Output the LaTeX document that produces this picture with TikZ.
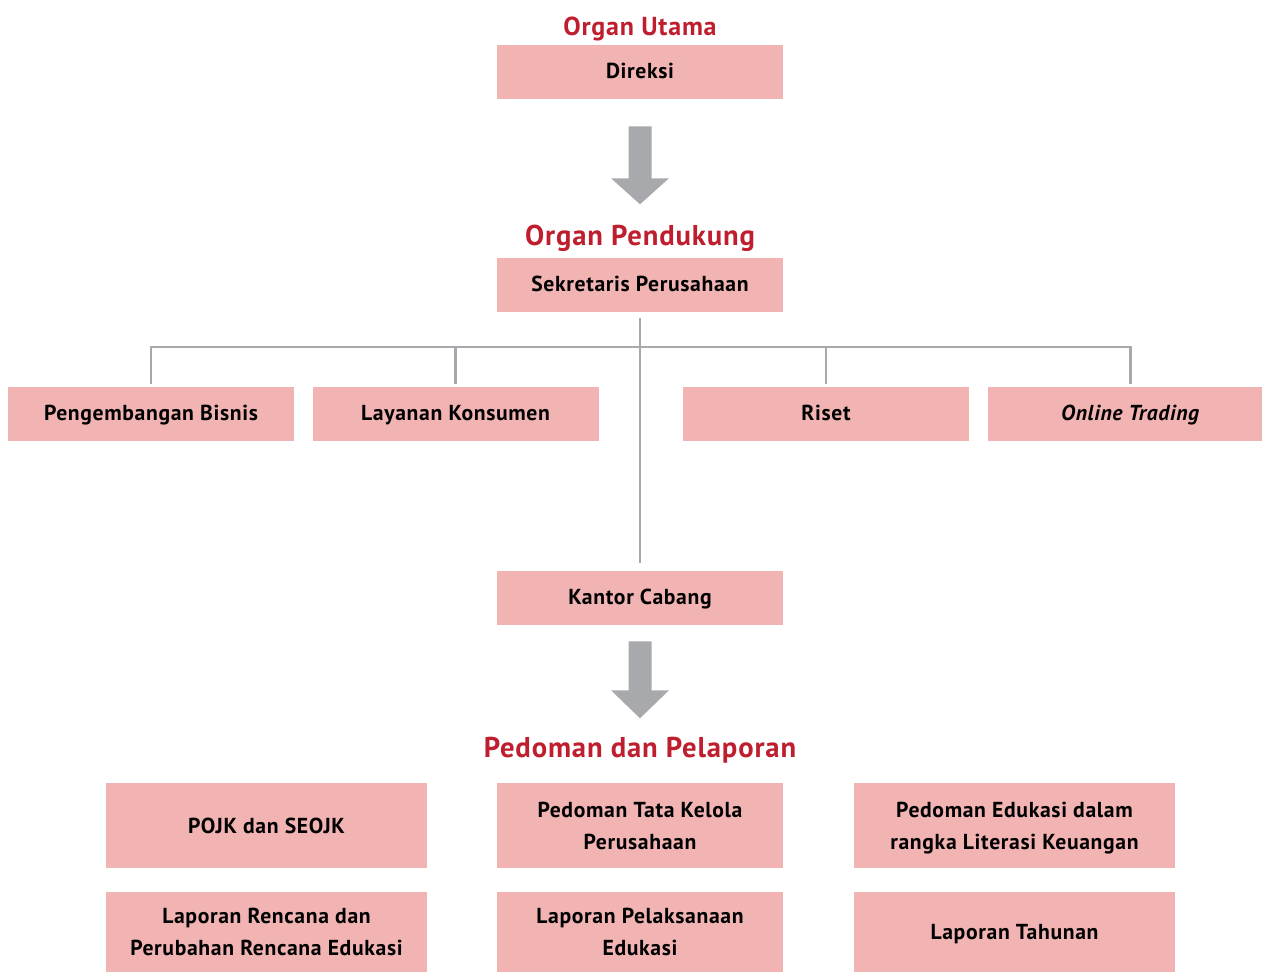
\documentclass[tikz,border=0pt]{standalone}
\usepackage{fontspec}
\setmainfont[LetterSpace=3]{PT Sans}
\usetikzlibrary{positioning,calc}
\definecolor{boxpink}{HTML}{F2B3B3}
\definecolor{titlered}{HTML}{BE1E2D}
\definecolor{linegray}{HTML}{A7A9AC}

\begin{document}
\begin{tikzpicture}[%
    x=0.75pt, y=-0.75pt,        % one unit is one pixel of the sketch, y runs down
    node distance=13.5pt,       % gap between boxes of one row
    ]
% -------------------------------------------------
% Box and line styles
\tikzset{
  base/.style={fill=boxpink, align=center, inner sep=0pt,
    font=\bfseries\fontsize{16.25}{24}\selectfont},
  unit/.style={base, minimum width=214.5pt, minimum height=40.5pt,
    text height=0.95em, text depth=0pt},
  doc/.style={base, minimum width=240.75pt, minimum height=63.75pt,
    text depth=0pt},
  docnarrow/.style={doc, minimum width=214.5pt},
  title/.style={anchor=base, text=titlered, inner sep=0pt,
    font=\bfseries\fontsize{21.5}{24}\selectfont},
  link/.style={draw=linegray, line width=1.9pt},
  bigarrow/.style={fill=linegray},
}
\path[use as bounding box, clip] (0,0) rectangle (1262,971);
% -------------------------------------------------
% Main organ and supporting organ
\node [title, font=\bfseries\fontsize{19.5}{22}\selectfont] (tutama) at (640,35) {Organ Utama};
\node [unit] (direksi) at (640,72) {Direksi};
\node [title] (tpendukung) at (640,245) {Organ Pendukung};
\node [unit] (sekretaris) at (640,285) {Sekretaris Perusahaan};
% -------------------------------------------------
% Row of units under the corporate secretary
\node [unit] (pengembangan) at (151,414) {Pengembangan Bisnis};
\node [unit, right=of pengembangan] (layanan) {Layanan Konsumen};
\node [unit] (riset) at (826,414) {Riset};
\node [unit, right=of riset] (online) {\textit{Online Trading}};
\node [unit] (kantor) at (640,598) {Kantor Cabang};
% -------------------------------------------------
% Guidelines and reports
\node [title] (tpedoman) at (640,757) {Pedoman dan Pelaporan};
\node [doc] (pojk) at (266.5,825.5) {POJK dan SEOJK};
\node [docnarrow] (tatakelola) at (640,825.5) {Pedoman Tata Kelola\\Perusahaan};
\node [doc] (edukasi) at (1014.5,825.5) {Pedoman Edukasi dalam\\rangka Literasi Keuangan};
\node [doc, minimum height=60pt, below=17.25pt of pojk] (rencana)
  {Laporan Rencana dan\\Perubahan Rencana Edukasi};
\node [docnarrow, minimum height=60pt, below=17.25pt of tatakelola] (pelaksanaan)
  {Laporan Pelaksanaan\\Edukasi};
\node [doc, minimum height=60pt, below=17.25pt of edukasi] (tahunan) {Laporan Tahunan};
% -------------------------------------------------
% Connectors
\coordinate (hub) at (640,347);
\draw [link, shorten <=4.5pt, shorten >=6pt] (sekretaris) -- (kantor);
\draw [link, shorten <=2.25pt, shorten >=2.25pt] (pengembangan) |- (hub) -| (online);
\draw [link, shorten >=2.25pt] (layanan |- hub) -- (layanan);
\draw [link, shorten >=2.25pt] (riset |- hub) -- (riset);
% -------------------------------------------------
% The two big gray arrows
\fill [bigarrow] ($(direksi.south)+(-11.5,27)$) -- ++(23,0) -- ++(0,52)
  -- ++(17.5,0) -- ++(-29,26) -- ++(-29,-26) -- ++(17.5,0) -- cycle;
\fill [bigarrow] ($(kantor.south)+(-11.5,16)$) -- ++(23,0) -- ++(0,49)
  -- ++(17.5,0) -- ++(-29,28) -- ++(-29,-28) -- ++(17.5,0) -- cycle;
\end{tikzpicture}
\end{document}
